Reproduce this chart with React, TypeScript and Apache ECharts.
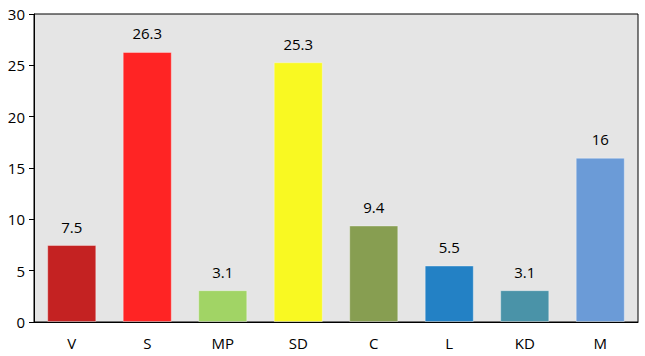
import React, { useEffect, useRef } from "react";
import * as echarts from "echarts";

const categories = ["V", "S", "MP", "SD", "C", "L", "KD", "M"];
const values = [7.5, 26.3, 3.1, 25.3, 9.4, 5.5, 3.1, 16];
const barColors = ["#C42222", "#FF2424", "#A1D465", "#F9F922", "#879E51", "#2381C5", "#4A93A8", "#6B9BD7"];
const yTicks = [0, 5, 10, 15, 20, 25, 30];

export default function App() {
  const ref = useRef<HTMLDivElement>(null);
  useEffect(() => {
    const chart = echarts.init(ref.current!, null, { renderer: "svg" });
    const font = "'Open Sans', 'Noto Sans', sans-serif";
    chart.setOption({
      animation: false,
      textStyle: { fontFamily: font },
      grid: {
        left: 34,
        right: 7,
        top: 14,
        bottom: 34,
        show: true,
        backgroundColor: "#E5E5E5",
        borderColor: "#000",
        borderWidth: 1,
      },
      xAxis: {
        type: "category",
        data: categories,
        axisLine: { show: true, lineStyle: { color: "#000" } },
        axisTick: { show: false },
        axisLabel: { color: "#000", fontSize: 15, margin: 13, fontFamily: font },
      },
      yAxis: {
        type: "value",
        min: yTicks[0],
        max: yTicks[yTicks.length - 1],
        interval: 5,
        splitLine: { show: false },
        axisLine: { show: true, lineStyle: { color: "#000" } },
        axisTick: { show: true, length: 5, lineStyle: { color: "#000" } },
        axisLabel: { color: "#000", fontSize: 15, margin: 9, fontFamily: font },
      },
      series: [
        {
          type: "bar",
          barWidth: "65%",
          data: values.map((v, i) => ({
            value: v,
            itemStyle: {
              color: barColors[i],
              borderColor: "rgba(255,255,255,0.35)",
              borderWidth: 1,
            },
          })),
          label: {
            show: true,
            position: "top",
            distance: 11,
            color: "#000",
            fontSize: 15,
            fontFamily: font,
          },
        },
      ],
    });
    return () => chart.dispose();
  }, []);
  return (
    <div
      ref={ref}
      style={{ position: "fixed", left: 0, top: 0, width: 645, height: 356, background: "#fff" }}
    />
  );
}
